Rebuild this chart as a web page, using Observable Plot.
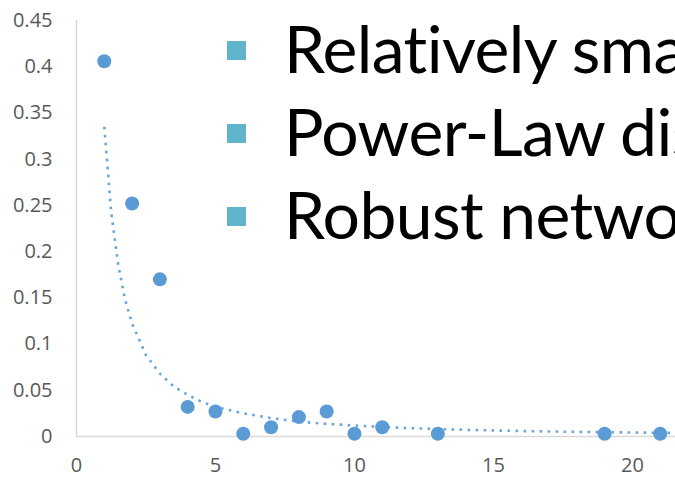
<!DOCTYPE html>
<html>
<head>
<meta charset="utf-8">
<script src="https://cdn.jsdelivr.net/npm/d3@7"></script>
<script src="https://cdn.jsdelivr.net/npm/@observablehq/plot@0.6"></script>
<style>
  html, body { margin: 0; padding: 0; background: #fff; overflow: hidden; }
  #wrap { position: relative; width: 675px; height: 477px; overflow: hidden; }
  #overlay { position: absolute; left: 0; top: 0; pointer-events: none; }
  #overlay text { font-variant-ligatures: none; font-feature-settings: "liga" 0, "clig" 0; }
</style>
</head>
<body>
<div id="wrap"></div>
<script>
// Observed degree distribution (x = degree, y = fraction)
const degrees   = [1, 2, 3, 4, 5, 6, 7, 8, 9, 10, 11, 13, 19, 21];
const fractions = [0.406, 0.252, 0.170, 0.032, 0.027, 0.003, 0.010, 0.021, 0.027, 0.003, 0.010, 0.003, 0.003, 0.003];

// Power-law trendline
const trendX = [1, 1.25, 1.5, 1.75, 2, 2.5, 3, 3.5, 4, 4.5, 5, 6, 7, 8, 9, 10, 12, 14, 16, 18, 20, 21.6];
const trendY = [0.335, 0.242, 0.186, 0.148, 0.122, 0.088, 0.068, 0.054, 0.045, 0.0375, 0.032, 0.025, 0.020, 0.016, 0.0137, 0.0118, 0.009, 0.0072, 0.0059, 0.005, 0.0043, 0.0038];

// Axis ticks
const xTicks = [0, 5, 10, 15, 20];
const yTicks = [0, 0.05, 0.1, 0.15, 0.2, 0.25, 0.3, 0.35, 0.4, 0.45];

// Slide bullet text (cut off at the right edge in the original)
const bullets = ["Relatively sma", "Power-Law dis", "Robust netwo"];

const points = degrees.map((d, i) => ({x: d, y: fractions[i]}));
const trend = trendX.map((d, i) => ({x: d, y: trendY[i]}));

const blue = "#5b9bd5";
const axisGray = "#d9d9d9";

const chart = Plot.plot({
  width: 675,
  height: 477,
  marginLeft: 76,
  marginRight: 0,
  marginTop: 20,
  marginBottom: 41,
  style: {fontFamily: "'Open Sans', sans-serif", fontSize: "20px", color: "#595959", background: "#fff", overflow: "hidden"},
  x: {domain: [0, 21.55], ticks: xTicks, tickSize: 0, tickPadding: 21, tickFormat: d => String(d), label: null},
  y: {domain: [0, 0.45], ticks: yTicks, tickSize: 0, tickPadding: 24, tickFormat: d => String(d), label: null},
  marks: [
    Plot.ruleX([0], {stroke: axisGray, strokeWidth: 1.5}),
    Plot.ruleY([0], {stroke: axisGray, strokeWidth: 1.5}),
    Plot.line(trend, {x: "x", y: "y", stroke: blue, strokeWidth: 2.6, strokeDasharray: "2.6 5.4", strokeLinecap: "butt", strokeOpacity: 0.9, curve: "linear"}),
    Plot.dot(points, {x: "x", y: "y", r: 7, fill: blue, stroke: "none"})
  ]
});

const wrap = document.getElementById("wrap");
wrap.appendChild(chart);

// Overlay with the slide bullets
const ns = "http://www.w3.org/2000/svg";
const ov = document.createElementNS(ns, "svg");
ov.setAttribute("id", "overlay");
ov.setAttribute("width", 675);
ov.setAttribute("height", 477);
const baseline0 = 73, lineStep = 83;
bullets.forEach((t, i) => {
  const base = baseline0 + i * lineStep;
  const r = document.createElementNS(ns, "rect");
  r.setAttribute("x", 227);
  r.setAttribute("y", base - 32);
  r.setAttribute("width", 19);
  r.setAttribute("height", 19);
  r.setAttribute("fill", "#60b4cc");
  ov.appendChild(r);
  const tx = document.createElementNS(ns, "text");
  tx.setAttribute("x", 284);
  tx.setAttribute("y", base);
  tx.setAttribute("font-family", "Lato, 'Open Sans', sans-serif");
  tx.setAttribute("font-size", 66);
  tx.setAttribute("letter-spacing", "-0.6");
  tx.setAttribute("fill", "#000");
  tx.textContent = t;
  ov.appendChild(tx);
});
wrap.appendChild(ov);
</script>
</body>
</html>
